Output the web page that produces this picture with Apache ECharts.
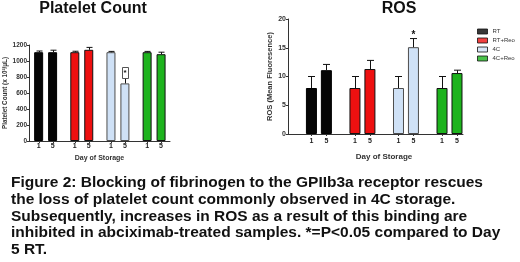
<!DOCTYPE html>
<html>
<head>
<meta charset="utf-8">
<script src="https://cdn.jsdelivr.net/npm/echarts@6/dist/echarts.min.js"></script>
<style>html,body{margin:0;padding:0;background:#fff}#c{width:520px;height:262px}</style>
</head>
<body>
<div id="c"></div>
<script>
// ---- data ----
var groups = ['RT', 'RT+Reo', '4C', '4C+Reo'];
var days = ['1', '5'];
var plateletDay1 = [1110, 1110, 1110, 1110];
var plateletDay5 = [1110, 1140, 720, 1085];
var plateletErr1 = [15, 12, 10, 10];
var plateletErr5 = [25, 30, 70, 25];
var rosDay1 = [8, 8, 8, 8];
var rosDay5 = [11.1, 11.3, 15.1, 10.6];
var rosErr1 = [2, 2, 2, 2];
var rosErr5 = [1, 1.5, 1.5, 0.5];
var plateletTicks = [0, 200, 400, 600, 800, 1000, 1200];
var rosTicks = [0, 5, 10, 15, 20];
var plateletStar = [2, 860];   // group index, value
var rosStar = [2, 17.6];
var captionLines = [
  'Figure 2: Blocking of fibrinogen to the GPIIb3a receptor rescues',
  'the loss of platelet count commonly observed in 4C storage.',
  'Subsequently, increases in ROS as a result of this binding are',
  'inhibited in abciximab-treated samples. *=P<0.05 compared to Day',
  '5 RT.'
];

// ---- styles ----
var fills = ['#050505', '#ee1010', '#cfe1f6', '#1db31d'];
var borders = ['#000', '#111', '#4d4d4d', '#111'];
var FONT = "'Liberation Sans', Arial, sans-serif";

var chart = echarts.init(document.getElementById('c'), null, {renderer: 'canvas'});

function barData(vals) {
  return vals.map(function (v, i) {
    return {value: [i, v], itemStyle: {color: fills[i], borderColor: borders[i], borderWidth: 1}};
  });
}
function errData(v1, e1, v5, e5) {
  var out = [];
  for (var i = 0; i < v1.length; i++) {
    out.push([i, v1[i], e1[i], 0]);
    out.push([i, v5[i], e5[i], 1]);
  }
  return out;
}
function errRender(off, cap) {
  return function (params, api) {
    var g = api.value(0), v = api.value(1), e = api.value(2), d = api.value(3);
    var base = api.coord([g, v]);
    var top = api.coord([g, v + e]);
    var zero = api.coord([g, 0]);
    var x = Math.round(base[0] + (d === 0 ? -off : off)) + 0.5;
    var st = {stroke: '#111', lineWidth: 1};
    return {type: 'group', children: [
      {type: 'line', shape: {x1: x, y1: base[1], x2: x, y2: top[1]}, style: st},
      {type: 'line', shape: {x1: x - cap, y1: top[1], x2: x + cap, y2: top[1]}, style: st},
      {type: 'line', shape: {x1: x, y1: zero[1], x2: x, y2: zero[1] + 2}, style: {stroke: '#333', lineWidth: 1}}
    ]};
  };
}
function barLabel(txt, dist) {
  return {show: true, position: 'bottom', distance: dist, formatter: txt,
    fontSize: 7, fontWeight: 'bold', color: '#222', fontFamily: FONT};
}

var axisText = {color: '#333', fontWeight: 'bold', fontFamily: FONT};
function plain(v) { return String(v); }

var option = {
  animation: false,
  textStyle: {fontFamily: FONT},
  grid: [
    {left: 29, top: 45, width: 141, height: 96},
    {left: 288, top: 19, width: 175, height: 115}
  ],
  xAxis: [
    {type: 'value', gridIndex: 0, min: -0.46, max: 3.44,
     axisLine: {show: true, onZero: false, lineStyle: {color: '#333', width: 1}},
     axisTick: {show: false}, axisLabel: {show: false}, splitLine: {show: false},
     name: 'Day of Storage', nameLocation: 'middle', nameGap: 14,
     nameTextStyle: Object.assign({fontSize: 7}, axisText)},
    {type: 'value', gridIndex: 1, min: -0.71, max: 3.31,
     axisLine: {show: true, onZero: false, lineStyle: {color: '#333', width: 1}},
     axisTick: {show: false}, axisLabel: {show: false}, splitLine: {show: false},
     name: 'Day of Storage', nameLocation: 'middle', nameGap: 19,
     nameTextStyle: Object.assign({fontSize: 8, padding: [0, 0, 0, 17]}, axisText)}
  ],
  yAxis: [
    {type: 'value', gridIndex: 0, min: plateletTicks[0], max: plateletTicks[plateletTicks.length - 1], interval: 200,
     axisLine: {show: true, onZero: false, lineStyle: {color: '#333', width: 1}},
     axisTick: {show: true, length: 2, lineStyle: {color: '#333'}},
     axisLabel: Object.assign({fontSize: 6.5, margin: 2, formatter: plain}, axisText),
     splitLine: {show: false},
     name: 'Platelet Count (x 10\u00b3/\u03bcL)', nameLocation: 'middle', nameRotate: 90, nameGap: 21,
     nameTextStyle: Object.assign({fontSize: 6.3}, axisText)},
    {type: 'value', gridIndex: 1, min: rosTicks[0], max: rosTicks[rosTicks.length - 1], interval: 5,
     axisLine: {show: true, onZero: false, lineStyle: {color: '#333', width: 1}},
     axisTick: {show: true, length: 2, lineStyle: {color: '#333'}},
     axisLabel: Object.assign({fontSize: 7, margin: 2, formatter: plain}, axisText),
     splitLine: {show: false},
     name: 'ROS (Mean Fluoresence)', nameLocation: 'middle', nameRotate: 90, nameGap: 11,
     nameTextStyle: Object.assign({fontSize: 7.5}, axisText)}
  ],
  legend: {
    orient: 'vertical', left: 477, top: 28, itemWidth: 10, itemHeight: 5, itemGap: 2, padding: 0,
    icon: 'rect',
    itemStyle: {borderColor: '#111', borderWidth: 1},
    textStyle: {fontSize: 6, color: '#333', fontFamily: FONT, lineHeight: 7},
    data: groups
  },
  graphic: [
    {type: 'text', x: 93, y: 9, style: {text: 'Platelet Count', font: 'bold 16px ' + FONT, fill: '#111', textAlign: 'center', textVerticalAlign: 'middle'}},
    {type: 'text', x: 399, y: 9, style: {text: 'ROS', font: 'bold 16px ' + FONT, fill: '#111', textAlign: 'center', textVerticalAlign: 'middle'}}
  ].concat(captionLines.map(function (t, i) {
    return {type: 'text', x: 11, y: 183 + i * 16.7, style: {text: t, font: 'bold 15.5px ' + FONT, fill: '#111', textAlign: 'left', textVerticalAlign: 'middle'}};
  })),
  series: [
    {type: 'bar', name: 'Day 1', xAxisIndex: 0, yAxisIndex: 0, barWidth: 9, barGap: '55%',
     data: barData(plateletDay1), label: barLabel(days[0], 2)},
    {type: 'bar', name: 'Day 5', xAxisIndex: 0, yAxisIndex: 0, barWidth: 9, barGap: '55%',
     data: barData(plateletDay5), label: barLabel(days[1], 2)},
    {type: 'custom', xAxisIndex: 0, yAxisIndex: 0, z: 5, encode: {x: 0, y: 1},
     data: errData(plateletDay1, plateletErr1, plateletDay5, plateletErr5), renderItem: errRender(7, 3)},
    {type: 'custom', xAxisIndex: 0, yAxisIndex: 0, z: 6, encode: {x: 0, y: 1},
     data: [plateletStar],
     renderItem: function (params, api) {
       var p = api.coord([api.value(0), api.value(1)]);
       var x = p[0] + 7;
       return {type: 'group', children: [
         {type: 'rect', shape: {x: Math.round(x - 3) + 0.5, y: Math.round(p[1] - 5.5) + 0.5, width: 6, height: 11},
          style: {fill: '#fff', stroke: '#555', lineWidth: 1}},
         {type: 'text', x: x, y: p[1] + 1, style: {text: '*', font: 'bold 8px ' + FONT, fill: '#111', textAlign: 'center', textVerticalAlign: 'middle'}}
       ]};
     }},
    {type: 'bar', name: 'Day 1 ROS', xAxisIndex: 1, yAxisIndex: 1, barWidth: 11, barGap: '36%',
     data: barData(rosDay1), label: barLabel(days[0], 4)},
    {type: 'bar', name: 'Day 5 ROS', xAxisIndex: 1, yAxisIndex: 1, barWidth: 11, barGap: '36%',
     data: barData(rosDay5), label: barLabel(days[1], 4)},
    {type: 'custom', xAxisIndex: 1, yAxisIndex: 1, z: 5, encode: {x: 0, y: 1},
     data: errData(rosDay1, rosErr1, rosDay5, rosErr5), renderItem: errRender(7.5, 3.5)},
    {type: 'custom', xAxisIndex: 1, yAxisIndex: 1, z: 6, encode: {x: 0, y: 1},
     data: [rosStar],
     renderItem: function (params, api) {
       var p = api.coord([api.value(0), api.value(1)]);
       return {type: 'text', x: p[0] + 7.5, y: p[1] + 2, style: {text: '*', font: 'bold 10px ' + FONT, fill: '#111', textAlign: 'center', textVerticalAlign: 'middle'}};
     }}
  ].concat(groups.map(function (g, i) {
    return {type: 'scatter', name: g, xAxisIndex: 1, yAxisIndex: 1, data: [], itemStyle: {color: fills[i]}};
  }))
};
chart.setOption(option);
</script>
</body>
</html>
